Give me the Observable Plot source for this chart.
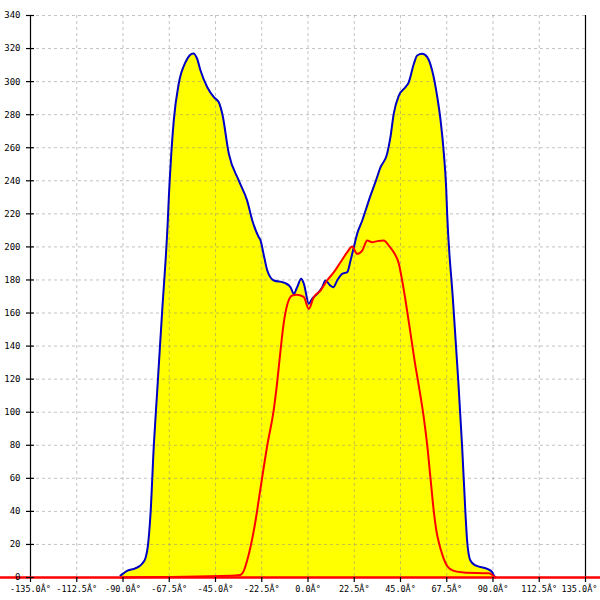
<!DOCTYPE html>
<html><head><meta charset="utf-8">
<script src="https://cdn.jsdelivr.net/npm/d3@7"></script>
<script src="https://cdn.jsdelivr.net/npm/@observablehq/plot@0.6"></script>
<style>body{margin:0;background:#fff}</style>
</head><body><div id="chart"></div>
<script>
const xTicks = [-135, -112.5, -90, -67.5, -45, -22.5, 0, 22.5, 45, 67.5, 90, 112.5, 135];
const yTicks = [0, 20, 40, 60, 80, 100, 120, 140, 160, 180, 200, 220, 240, 260, 280, 300, 320, 340];

const blueAngle = [-91.2, -87.8, -84, -80.7, -79, -78, -76.6, -75, -73.4, -71, -68.2, -67.7, -66.5, -65.3, -62.9, -59.5, -57.5, -55.8, -54, -52.3, -49, -45.8, -43.4, -41.7, -38.5, -33.7, -29.6, -27.1, -24, -23.1, -21.5, -19.8, -16.6, -12, -10.9, -8.5, -6.9, -5.3, -3.3, -2, 0.4, 2, 4.5, 6.9, 8.5, 10.9, 12.3, 14.2, 16.6, 19.1, 20.7, 22.3, 23.9, 26.4, 28, 30.4, 33, 35.3, 38.5, 40.1, 41.7, 44.2, 47.4, 49, 51.5, 53.1, 55.6, 58, 60.4, 62.9, 64.5, 66.1, 67.2, 67.7, 70.4, 73.1, 75, 76.6, 77.4, 79, 81.5, 87.2, 89.6, 90.4, 91.2];
const blueValue = [1.2, 4.2, 5.5, 8.3, 12, 18, 38.7, 80, 112, 160, 216, 230, 256.5, 276.5, 298.7, 312, 316, 317, 314, 306.7, 296.6, 290.6, 287.5, 280.5, 256.3, 240.2, 228, 216, 206, 204, 195, 185.7, 179.7, 178.5, 178, 175.6, 171.6, 175.6, 180.7, 177.7, 165.6, 168.6, 171.6, 175.6, 179.7, 176.6, 175.6, 179.7, 183.7, 184.7, 191.8, 199.8, 207.9, 216, 222, 231, 240, 248.2, 256.3, 266.4, 280.5, 291.6, 296.6, 299.6, 310.8, 315.8, 316.8, 314.8, 306.7, 290.6, 276.5, 256.3, 236.1, 220, 170, 119, 78.8, 38.7, 22.4, 10.3, 7.3, 5.2, 3.2, 1.2, 0];

const redAngle = [-91, -38, -33, -31.2, -29.6, -28, -25.5, -23.1, -19.8, -16.6, -15, -13.4, -11.8, -10.1, -7.7, -5.5, -3.6, -2, 0.4, 2.8, 6.1, 9.3, 12.6, 15.8, 19.1, 21.5, 23.9, 26.4, 28.8, 31.2, 33.7, 36.9, 39.3, 41.7, 44.2, 45.8, 47.4, 49, 50.2, 52, 53.9, 56.3, 58, 59.6, 61.2, 62.5, 63.7, 65.3, 67.7, 70.9, 75.8, 88, 91];
const redValue = [0, 1, 1.5, 4.2, 10.3, 18.3, 34.5, 54, 80, 102, 118, 137, 154, 165, 170.6, 171, 170.6, 169.6, 162.5, 169.6, 173.6, 179.7, 184.7, 190.7, 196.8, 200.2, 195.8, 197.8, 203.9, 202.8, 203.5, 203.9, 200.8, 196.8, 189.8, 179.7, 168, 155, 145, 130, 116, 97, 80, 60, 40, 28, 21, 14, 7, 4, 3, 2.5, 0];

const blue = blueAngle.map((a, i) => ({x: a, y: blueValue[i]}));
const red = redAngle.map((a, i) => ({x: a, y: redValue[i]}));

const fmtX = d => d.toFixed(1) + "Â°";
const curve = "monotone-x";
const chart = Plot.plot({
  width: 600, height: 600,
  marginLeft: 30, marginRight: 15, marginTop: 15, marginBottom: 23,
  x: {domain: [-135, 135]},
  y: {domain: [0, 340]},
  style: {fontFamily: "'DejaVu Sans Mono', monospace", fontSize: "8.5px", background: "#fff", color: "#000"},
  marks: [
    Plot.areaY(blue, {x: "x", y: "y", fill: "#ffff00", curve}),
    Plot.areaY(red, {x: "x", y: "y", fill: "#ffff00", curve}),
    Plot.gridX({ticks: xTicks, stroke: "#888", strokeOpacity: 0.5, strokeDasharray: "3,3"}),
    Plot.gridY({ticks: yTicks, stroke: "#888", strokeOpacity: 0.5, strokeDasharray: "3,3"}),
    Plot.lineY(blue, {x: "x", y: "y", stroke: "#0000c8", strokeWidth: 2, curve}),
    Plot.lineY(red, {x: "x", y: "y", stroke: "#ff0000", strokeWidth: 2, curve}),
    Plot.ruleX([-135, 135], {stroke: "#000", strokeWidth: 1.2}),
    Plot.ruleY([0], {x1: -150, x2: 150, stroke: "#ff0000", strokeWidth: 2.5}),
    Plot.axisY({ticks: yTicks, tickSize: 8, dx: 4, tickFormat: () => "", label: null, strokeWidth: 1.2}),
    Plot.axisY({ticks: yTicks, tickSize: 0, tickPadding: 10, tickFormat: d => String(d), label: null, fontSize: 9}),
    Plot.axisX({ticks: xTicks.slice(0, -1), tickSize: 5, tickPadding: 3, tickFormat: fmtX, label: null, strokeWidth: 1.2}),
    Plot.axisX({ticks: xTicks.slice(-1), tickSize: 0, tickPadding: 8, dx: -6, tickFormat: fmtX, label: null}),
    Plot.axisX({ticks: xTicks.slice(-1), tickSize: 5, tickFormat: () => "", label: null, strokeWidth: 1.2})
  ]
});
document.getElementById("chart").append(chart);
</script>
</body></html>
